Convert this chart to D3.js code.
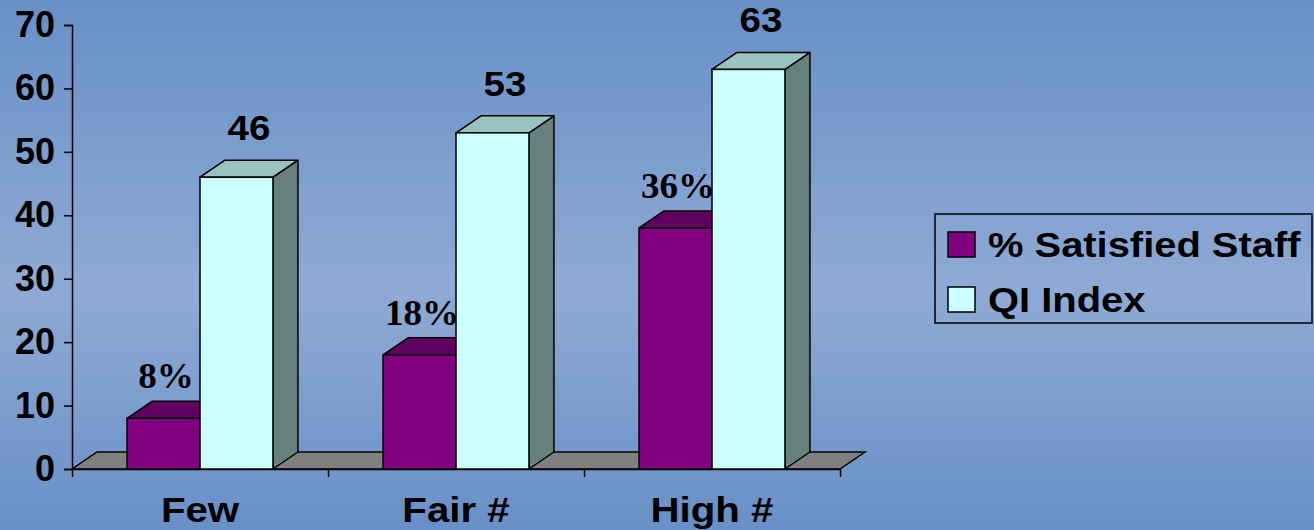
<!DOCTYPE html>
<html>
<head>
<meta charset="utf-8">
<script src="https://cdn.jsdelivr.net/npm/d3@7"></script>
<style>
  html, body { margin: 0; padding: 0; overflow: hidden; }
  svg { display: block; }
</style>
</head>
<body>
<script>
// chart data
const categories = ["Few", "Fair #", "High #"];
const satisfied = [8, 18, 38];
const satisfiedLabels = ["8%", "18%", "36%"];
const qiIndex = [46, 53, 63];
const qiLabels = ["46", "53", "63"];
const yTicks = [0, 10, 20, 30, 40, 50, 60, 70];
const seriesNames = ["% Satisfied Staff", "QI Index"];

const W = 1314, H = 530;
const sans = "Arial, 'Liberation Sans', sans-serif";
const serif = "'Times New Roman', 'Liberation Serif', serif";

// 3d depth offset
const dx = 25, dy = -17;

const colors = {
  sat: { front: "#800080", top: "#600060", side: "#400040" },
  qi: { front: "#ccffff", top: "#99c2c0", side: "#668080" }
};

const svg = d3.select("body").append("svg")
  .attr("width", W)
  .attr("height", H);

// background gradient
const grad = svg.append("defs").append("linearGradient")
  .attr("id", "bg").attr("x1", 0).attr("y1", 0).attr("x2", 0).attr("y2", 1);
grad.append("stop").attr("offset", "0").attr("stop-color", "#6890c7");
grad.append("stop").attr("offset", "0.55").attr("stop-color", "#8faad4");
grad.append("stop").attr("offset", "1").attr("stop-color", "#6890c7");
svg.append("rect").attr("width", W).attr("height", H).attr("fill", "url(#bg)");

const x0 = 72, x1 = 840, yTop = 25, yBottom = 469;

const x = d3.scaleBand()
  .domain(categories)
  .range([x0, x1]);

const y = d3.scaleLinear()
  .domain([0, 70])
  .range([yBottom, yTop]);

const barW = x.bandwidth() * 0.285;
const groupOffset = (x.bandwidth() - 2 * barW) / 2;

// floor
svg.append("path")
  .attr("d", `M${x0},${yBottom}L${x1},${yBottom}L${x1 + dx},${yBottom + dy}L${x0 + dx},${yBottom + dy}Z`)
  .attr("fill", "#808080")
  .attr("stroke", "#000")
  .attr("stroke-width", 1.5);

// axes
const yAxis = svg.append("g")
  .attr("transform", `translate(${x0},0)`)
  .call(d3.axisLeft(y).tickValues(yTicks).tickSize(8).tickPadding(9).tickFormat(d3.format("d")));
yAxis.select(".domain").attr("stroke-width", 1.5);
yAxis.selectAll(".tick line").attr("stroke-width", 1.5);
yAxis.selectAll("text")
  .attr("font-family", sans)
  .attr("font-weight", "bold")
  .attr("font-size", 36)
  .attr("fill", "#000");

const xEdges = d3.scaleLinear().domain([0, categories.length]).range([x0, x1]);
const xAxis = svg.append("g")
  .attr("transform", `translate(0,${yBottom})`)
  .call(d3.axisBottom(xEdges).tickValues(d3.range(categories.length + 1)).tickSize(8).tickSizeOuter(0).tickFormat(""));
xAxis.select(".domain").attr("stroke-width", 1.5);
xAxis.selectAll(".tick line").attr("stroke-width", 1.5);

// category labels
svg.append("g").selectAll("text")
  .data(categories)
  .enter()
  .append("text")
  .attr("transform", d => `translate(${x(d) + x.bandwidth() / 2},${522}) scale(1.15,1)`)
  .attr("text-anchor", "middle")
  .attr("font-family", sans)
  .attr("font-weight", "bold")
  .attr("font-size", 35)
  .text(d => d);

function bar3d(g, bx, v, c) {
  const yt = y(v);
  // side
  g.append("path")
    .attr("d", `M${bx + barW},${yt}L${bx + barW + dx},${yt + dy}L${bx + barW + dx},${yBottom + dy}L${bx + barW},${yBottom}Z`)
    .attr("fill", c.side).attr("stroke", "#000").attr("stroke-width", 1.5).attr("stroke-linejoin", "round");
  // top
  g.append("path")
    .attr("d", `M${bx},${yt}L${bx + dx},${yt + dy}L${bx + barW + dx},${yt + dy}L${bx + barW},${yt}Z`)
    .attr("fill", c.top).attr("stroke", "#000").attr("stroke-width", 1.5).attr("stroke-linejoin", "round");
  // front
  g.append("rect")
    .attr("x", bx).attr("y", yt)
    .attr("width", barW).attr("height", yBottom - yt)
    .attr("fill", c.front).attr("stroke", "#000").attr("stroke-width", 1.5);
}

const bars = svg.append("g");
categories.forEach((cat, i) => {
  const bxSat = x(cat) + groupOffset;
  const bxQi = bxSat + barW;
  const g = bars.append("g");

  bar3d(g, bxSat, satisfied[i], colors.sat);
  g.append("text")
    .attr("transform", `translate(${bxSat + barW / 2 + dx / 2 - 10},${y(satisfied[i]) + dy - 13}) scale(1.06,1)`)
    .attr("text-anchor", "middle")
    .attr("font-family", serif)
    .attr("font-weight", "bold")
    .attr("font-size", 35)
    .text(satisfiedLabels[i]);

  bar3d(g, bxQi, qiIndex[i], colors.qi);
  g.append("text")
    .attr("transform", `translate(${bxQi + barW / 2 + dx / 2},${y(qiIndex[i]) + dy - 20}) scale(1.1,1)`)
    .attr("text-anchor", "middle")
    .attr("font-family", sans)
    .attr("font-weight", "bold")
    .attr("font-size", 35)
    .text(qiLabels[i]);
});

// legend
const legend = svg.append("g");
legend.append("rect")
  .attr("x", 935).attr("y", 214)
  .attr("width", 377).attr("height", 109)
  .attr("fill", "none")
  .attr("stroke", "#000")
  .attr("stroke-width", 1.5);

const legendColors = [colors.sat.front, colors.qi.front];
seriesNames.forEach((name, i) => {
  const ly = 232 + i * 55;
  legend.append("rect")
    .attr("x", 948).attr("y", ly)
    .attr("width", 27).attr("height", 25)
    .attr("fill", legendColors[i])
    .attr("stroke", "#000")
    .attr("stroke-width", 1.5);
  legend.append("text")
    .attr("transform", `translate(988,${ly + 25}) scale(1.14,1)`)
    .attr("font-family", sans)
    .attr("font-weight", "bold")
    .attr("font-size", 35)
    .text(name);
});
</script>
</body>
</html>
